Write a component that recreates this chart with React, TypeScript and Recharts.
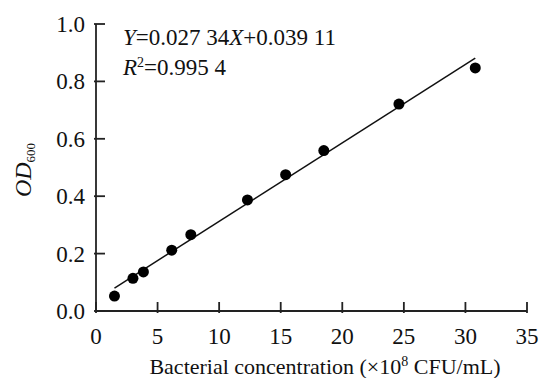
import React from 'react';
import { ScatterChart, Scatter, XAxis, YAxis } from 'recharts';

// --- measured points (bacterial concentration ×10^8 CFU/mL vs OD600) ---
const concentration = [1.5, 3.0, 3.85, 6.15, 7.7, 12.3, 15.4, 18.5, 24.6, 30.8];
const od600 = [0.052, 0.114, 0.136, 0.212, 0.266, 0.387, 0.475, 0.559, 0.721, 0.847];

// fitted line end points
const fitX = [1.5, 30.8];
const fitY = [0.08, 0.881];

const xTicks = [0, 5, 10, 15, 20, 25, 30, 35];
const yTicks = [0, 0.2, 0.4, 0.6, 0.8, 1.0];

const points = concentration.map((x, i) => ({ x, y: od600[i] }));
const fitLine = fitX.map((x, i) => ({ x, y: fitY[i] }));

const FONT = 'Liberation Serif';
const AXIS = '#222';
const INK = '#111';

const XTick = (props: any) => {
    const { x, y, payload } = props;
    return (
        <g>
            <line x1={x} y1={y} x2={x} y2={y - 11} stroke={AXIS} strokeWidth={1.8} />
            <text x={x} y={y + 31} textAnchor="middle" fontFamily={FONT} fontSize={23} fill={INK}>
                {payload.value}
            </text>
        </g>
    );
};

const YTick = (props: any) => {
    const { x, y, payload } = props;
    return (
        <g>
            <line x1={x} y1={y} x2={x + 11} y2={y} stroke={AXIS} strokeWidth={1.8} />
            <text x={x - 9} y={y + 8} textAnchor="end" fontFamily={FONT} fontSize={23} fill={INK}>
                {Number(payload.value).toFixed(1)}
            </text>
        </g>
    );
};

export default function App() {
    return (
        <div style={{ position: 'absolute', left: 0, top: 0, width: 539, height: 378, background: '#fff' }}>
            <ScatterChart width={539} height={378} margin={{ top: 24, right: 12, bottom: 0, left: 0 }}>
                <XAxis
                    type="number"
                    dataKey="x"
                    domain={[0, 35]}
                    ticks={xTicks}
                    height={67}
                    tickSize={0}
                    tickLine={false}
                    axisLine={{ stroke: AXIS, strokeWidth: 1.8 }}
                    tick={<XTick />}
                    interval={0}
                />
                <YAxis
                    type="number"
                    dataKey="y"
                    domain={[0, 1]}
                    ticks={yTicks}
                    width={96}
                    tickSize={0}
                    tickLine={false}
                    axisLine={{ stroke: AXIS, strokeWidth: 1.8 }}
                    tick={<YTick />}
                    interval={0}
                />
                <Scatter
                    data={fitLine}
                    line={{ stroke: INK, strokeWidth: 1.5 }}
                    shape={() => null}
                    isAnimationActive={false}
                    legendType="none"
                />
                <Scatter
                    data={points}
                    isAnimationActive={false}
                    shape={(p: any) => <circle cx={p.cx} cy={p.cy} r={5.5} fill="#000" />}
                />
            </ScatterChart>
            <svg width={539} height={378} style={{ position: 'absolute', left: 0, top: 0, pointerEvents: 'none' }}>
                <text x={123} y={45} fontFamily={FONT} fontSize={23} fill={INK}>
                    <tspan fontStyle="italic">Y</tspan>=0.027 34<tspan fontStyle="italic">X</tspan>+0.039 11
                </text>
                <text x={123} y={75} fontFamily={FONT} fontSize={23} fill={INK}>
                    <tspan fontStyle="italic">R</tspan>
                    <tspan fontSize={14} dy={-8}>2</tspan>
                    <tspan dy={8}>=0.995 4</tspan>
                </text>
                <text transform="translate(31,170) rotate(-90)" textAnchor="middle" fontFamily={FONT} fontSize={24} fill={INK}>
                    <tspan fontStyle="italic">OD</tspan>
                    <tspan fontSize={13} dy={4}>600</tspan>
                </text>
                <text x={325} y={374} textAnchor="middle" fontFamily={FONT} fontSize={22} fill={INK}>
                    Bacterial concentration (×10<tspan fontSize={14} dy={-8}>8</tspan>
                    <tspan dy={8}> CFU/mL)</tspan>
                </text>
            </svg>
        </div>
    );
}
